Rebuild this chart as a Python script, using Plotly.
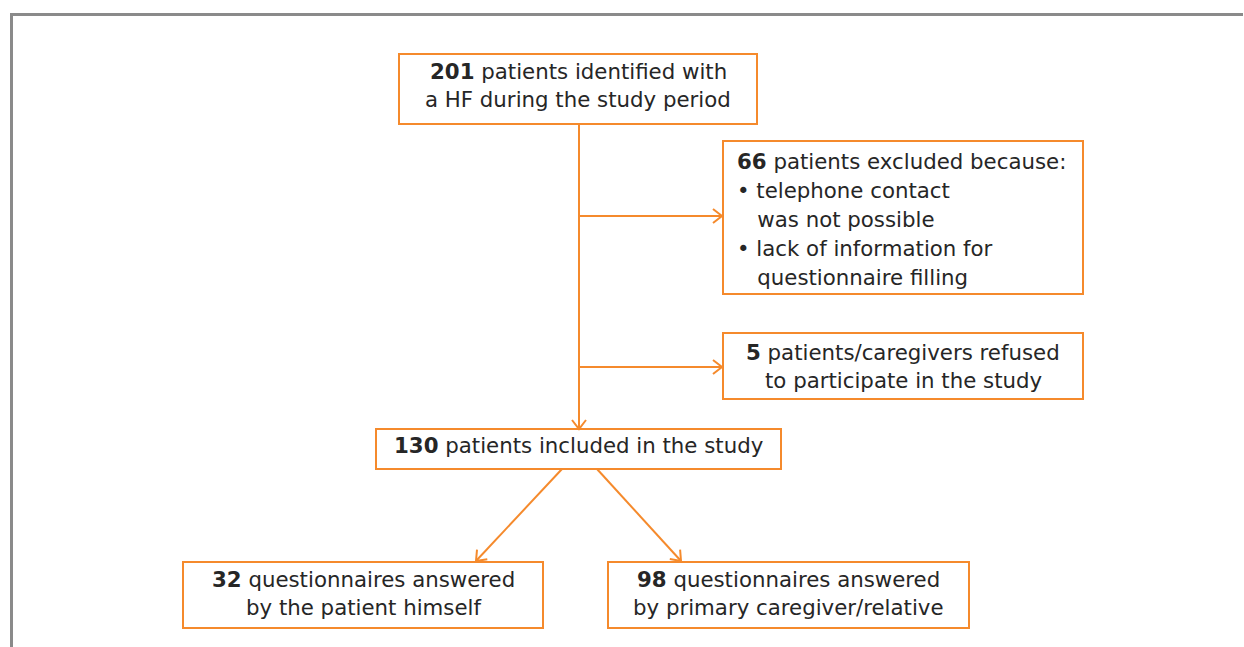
import plotly.graph_objects as go
import math

# ---- data ----
counts = [201, 66, 5, 130, 32, 98]
box_lines = [
    ["{n} patients identified with", "a HF during the study period"],
    ["{n} patients excluded because:", "• telephone contact", "   was not possible",
     "• lack of information for", "   questionnaire filling"],
    ["{n} patients/caregivers refused", "to participate in the study"],
    ["{n} patients included in the study"],
    ["{n} questionnaires answered", "by the patient himself"],
    ["{n} questionnaires answered", "by primary caregiver/relative"],
]

# ---- layout config (pixels) ----
W, H = 1244, 647
ORANGE = "#F58A2C"
TXT = "#262626"
FONT = "DejaVu Sans"
FS = 21.3
boxes = [  # x0, y0, x1, y1, align, first baseline, pitch
    (399, 54, 757, 124, "center", 79, 28),
    (723, 141, 1083, 294, "left", 169, 29),
    (723, 333, 1083, 399, "center", 360, 28),
    (376, 429, 781, 469, "center", 453, 28),
    (183, 562, 543, 628, "center", 587, 28),
    (608, 562, 969, 628, "center", 587, 28),
]
arrows = [  # (x0, y0, x1, y1)
    (579, 124, 579, 429),
    (579, 216, 722, 216),
    (579, 367, 722, 367),
    (562, 469, 476, 561),
    (597, 469, 681, 561),
]

fig = go.Figure()
shapes = []
annotations = []

# frame
shapes.append(dict(type="line", x0=10, y0=14.5, x1=1243, y1=14.5,
                   line=dict(color="#8a8a8a", width=3)))
shapes.append(dict(type="line", x0=11.5, y0=13, x1=11.5, y1=H,
                   line=dict(color="#8a8a8a", width=3)))

for (x0, y0, x1, y1, align, base, pitch), lines, n in zip(boxes, box_lines, counts):
    shapes.append(dict(type="rect", x0=x0, y0=y0, x1=x1, y1=y1,
                       line=dict(color=ORANGE, width=2), fillcolor="white"))
    for i, ln in enumerate(lines):
        t = ln.replace("{n}", "<b>%d</b>" % n)
        t = t.replace("   ", "&nbsp;&nbsp;&nbsp;")
        yb = base + i * pitch
        if align == "center":
            ax, xa = (x0 + x1) / 2, "center"
        else:
            ax, xa = x0 + 12, "left"
        annotations.append(dict(x=ax, y=yb - 6.5 * FS / 19.5, xref="x", yref="y", text=t,
                                showarrow=False, xanchor=xa, yanchor="middle",
                                font=dict(family=FONT, size=FS, color=TXT)))

for (x0, y0, x1, y1) in arrows:
    shapes.append(dict(type="line", x0=x0, y0=y0, x1=x1, y1=y1,
                       line=dict(color=ORANGE, width=2)))
    dx, dy = x1 - x0, y1 - y0
    L = math.hypot(dx, dy)
    ux, uy = dx / L, dy / L
    px, py = -uy, ux
    hl, hw = 9, 7
    bx, by = x1 - ux * hl, y1 - uy * hl
    path = "M %.1f %.1f L %.1f %.1f L %.1f %.1f" % (
        bx + px * hw, by + py * hw, x1, y1, bx - px * hw, by - py * hw)
    shapes.append(dict(type="path", path=path, line=dict(color=ORANGE, width=2)))

fig.update_layout(
    width=W, height=H, margin=dict(l=0, r=0, t=0, b=0),
    paper_bgcolor="white", plot_bgcolor="white",
    xaxis=dict(range=[0, W], visible=False, fixedrange=True),
    yaxis=dict(range=[H, 0], visible=False, fixedrange=True),
    shapes=shapes, annotations=annotations, showlegend=False,
)
fig.write_html("out.html", config={"displayModeBar": False},
               post_script="document.body.style.margin='0';document.body.style.overflow='hidden';")
